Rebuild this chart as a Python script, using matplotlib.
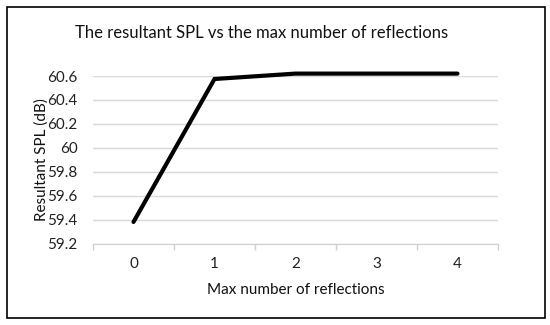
import matplotlib
matplotlib.use("Agg")
import matplotlib.pyplot as plt
from matplotlib.patches import Rectangle

# data
reflections = ["0", "1", "2", "3", "4"]
spl = [59.38, 60.575, 60.62, 60.62, 60.62]
yticks = [59.2, 59.4, 59.6, 59.8, 60.0, 60.2, 60.4, 60.6]
ytick_labels = ["59.2", "59.4", "59.6", "59.8", "60", "60.2", "60.4", "60.6"]

plt.rcParams['font.family'] = ['Lato', 'DejaVu Sans']

fig = plt.figure(figsize=(5.5, 3.25), dpi=100)
fig.patch.set_facecolor("white")
# chart border
fig.patches.append(Rectangle((7 / 550, 7 / 325), 538 / 550, 311 / 325,
                             transform=fig.transFigure, fill=False,
                             edgecolor="black", linewidth=1.2))

ax = fig.add_axes([93 / 550, 1 - 243.5 / 325, 405 / 550, 167.5 / 325])
x = list(range(len(reflections)))
ax.plot(x, spl, color="black", linewidth=3.0, clip_on=False,
        solid_capstyle="round", solid_joinstyle="miter")

ax.set_xlim(-0.5, len(reflections) - 0.5)
ax.set_ylim(59.2, 60.6)
ax.set_yticks(yticks)
ax.set_yticklabels(ytick_labels)
ax.set_xticks(x)
ax.set_xticklabels(reflections)
# category boundary tick marks
ax.set_xticks([i - 0.5 for i in range(len(reflections) + 1)], minor=True)
ax.tick_params(axis="x", which="major", length=0, pad=10, labelsize=11, colors="#222222")
ax.tick_params(axis="x", which="minor", length=4, color="#d0d0d0", width=1)
ax.tick_params(axis="y", length=0, pad=11, labelsize=11, colors="#222222")

ax.yaxis.grid(True, color="#d9d9d9", linewidth=1)
ax.set_axisbelow(True)
for side in ["top", "right", "left"]:
    ax.spines[side].set_visible(False)
ax.spines["bottom"].set_color("#d0d0d0")

ax.set_xlabel("Max number of reflections", fontsize=11, labelpad=8, color="#111111")
ax.set_ylabel("Resultant SPL (dB)", fontsize=11, color="#111111", va="center")
ax.yaxis.set_label_coords((42 - 93) / 405, 0.5)
fig.text(262 / 550, 1 - 33 / 325, "The resultant SPL vs the max number of reflections",
         ha="center", va="center", fontsize=12, color="#111111")

fig.savefig("out.png", dpi=100)
